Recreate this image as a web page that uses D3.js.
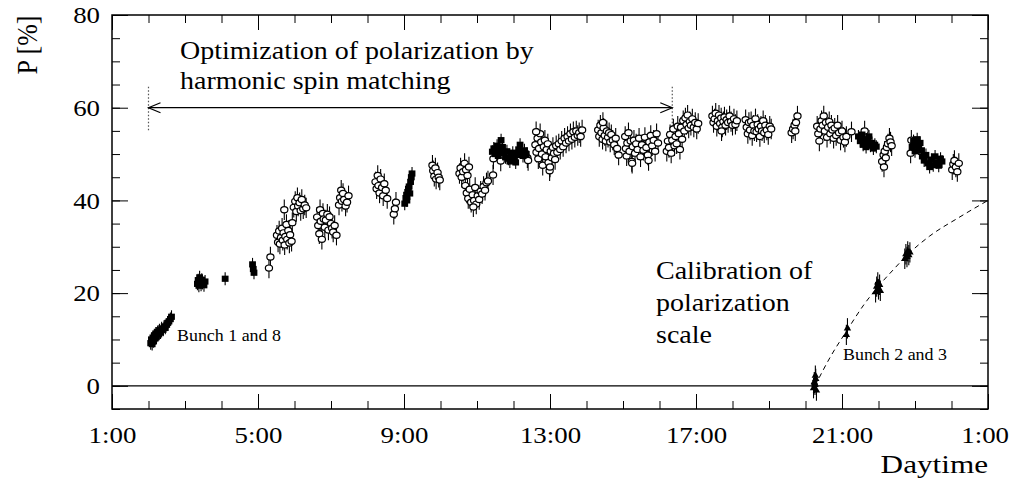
<!DOCTYPE html>
<html>
<head>
<meta charset="utf-8">
<script src="https://cdn.jsdelivr.net/npm/d3@7"></script>
<style>
  body { margin: 0; background: #fff; }
  svg { display: block; font-family: "Liberation Serif", "Times New Roman", serif; }
</style>
</head>
<body>
<svg id="chart" width="1013" height="479"></svg>
<script>
// hours counted from 1:00 of the first day (25 = 1:00 next day)
const majorHours = [1, 5, 9, 13, 17, 21, 25];
const hourLabels = ['1:00', '5:00', '9:00', '13:00', '17:00', '21:00', '1:00'];
const majorP = [0, 20, 40, 60, 80];

// filled squares: [hour, P]
const filledPoints = [
  [2.06, 9.2], [2.08, 10.0], [2.10, 9.0], [2.12, 10.4], [2.14, 9.6], [2.16, 10.9], [2.18, 10.2],
  [2.20, 11.3], [2.22, 10.6], [2.25, 11.6], [2.28, 11.1], [2.30, 12.0], [2.33, 11.5], [2.36, 12.4],
  [2.40, 12.1], [2.43, 12.8], [2.46, 12.5], [2.50, 13.2], [2.53, 13.6], [2.56, 13.9], [2.60, 14.4], [2.63, 14.9],
  [3.34, 22.0], [3.36, 22.8], [3.38, 21.6], [3.40, 23.4], [3.42, 22.4], [3.44, 21.8], [3.46, 22.9],
  [3.48, 22.2], [3.52, 21.7], [3.55, 22.5],
  [4.10, 23.1],
  [4.85, 26.2], [4.87, 25.2], [4.89, 24.4],
  [9.02, 39.3], [9.05, 40.5], [9.07, 41.2], [9.08, 40.0], [9.10, 41.8], [9.12, 42.5], [9.14, 43.0],
  [9.16, 41.5], [9.18, 44.0], [9.20, 45.0], [9.22, 45.8],
  [11.42, 50.5], [11.46, 51.2], [11.50, 50.0], [11.55, 51.8], [11.58, 49.6], [11.62, 50.8], [11.66, 53.0],
  [11.70, 51.5], [11.74, 50.2], [11.78, 49.3], [11.82, 50.6], [11.86, 49.0], [11.90, 48.4], [11.94, 49.5],
  [11.98, 50.3], [12.02, 49.0], [12.06, 48.2], [12.10, 49.8], [12.14, 51.0], [12.18, 52.0], [12.22, 50.5],
  [12.26, 49.6], [12.30, 50.8], [12.35, 50.0],
  [21.45, 53.8], [21.50, 52.8], [21.55, 54.2], [21.58, 52.0], [21.62, 53.2], [21.66, 51.5], [21.70, 52.6],
  [21.74, 53.8], [21.78, 51.8], [21.82, 52.4], [21.86, 51.2], [21.90, 52.0], [21.94, 51.6],
  [22.92, 51.5], [22.96, 52.8], [23.00, 50.6], [23.03, 52.0], [23.06, 53.2], [23.10, 51.2], [23.14, 52.4],
  [23.18, 50.8], [23.20, 49.5], [23.25, 48.6], [23.30, 49.8], [23.35, 48.0], [23.40, 47.2], [23.45, 48.8],
  [23.50, 47.6], [23.55, 49.5], [23.60, 48.2], [23.65, 47.5], [23.70, 49.0], [23.74, 48.4]
];

// open circles: [hour, P]
const openPoints = [
  [5.30, 25.4], [5.34, 27.8],
  [5.52, 32.5], [5.55, 31.0], [5.58, 33.4], [5.60, 30.6], [5.63, 32.0], [5.66, 34.0], [5.68, 31.4],
  [5.70, 33.0], [5.73, 30.4], [5.75, 32.2], [5.78, 34.8], [5.80, 31.6], [5.83, 33.5], [5.86, 30.8],
  [5.88, 32.6], [5.92, 31.2], [5.94, 35.2], [5.72, 38.0],
  [5.98, 38.5], [6.02, 39.8], [6.05, 37.6], [6.08, 40.6], [6.10, 38.8], [6.14, 39.5], [6.17, 37.8],
  [6.20, 40.2], [6.24, 38.2], [6.28, 39.0], [6.32, 38.4],
  [6.62, 36.4], [6.65, 34.6], [6.68, 32.8], [6.70, 38.0], [6.72, 35.5], [6.75, 31.6], [6.78, 37.2],
  [6.80, 36.0], [6.83, 34.2], [6.86, 35.8], [6.90, 37.0], [6.93, 33.6], [6.96, 36.5], [7.00, 35.0],
  [7.03, 34.0], [7.06, 33.2], [7.10, 34.6], [7.15, 32.5],
  [7.22, 39.0], [7.25, 40.6], [7.28, 42.2], [7.30, 39.8], [7.33, 41.5], [7.36, 40.2], [7.40, 38.8],
  [7.44, 39.6], [7.48, 41.0],
  [8.22, 44.0], [8.25, 42.5], [8.28, 45.4], [8.30, 43.2], [8.33, 41.6], [8.36, 44.6], [8.40, 42.8],
  [8.43, 41.0], [8.46, 43.6], [8.50, 42.2], [8.54, 40.4],
  [8.72, 37.0], [8.75, 38.2], [8.78, 39.6],
  [9.78, 47.6], [9.80, 46.4], [9.83, 45.2], [9.86, 47.0], [9.88, 44.6], [9.92, 46.0], [9.95, 45.0], [9.98, 44.4],
  [10.52, 45.8], [10.55, 47.0], [10.58, 45.0], [10.62, 46.2], [10.66, 48.0], [10.70, 46.6], [10.74, 45.4], [10.78, 47.2],
  [10.68, 43.2], [10.72, 41.6], [10.76, 40.4], [10.80, 42.4], [10.84, 39.6], [10.88, 41.2], [10.92, 40.0],
  [10.95, 42.8], [10.98, 39.2], [11.02, 41.0], [11.06, 40.2], [11.10, 42.0], [11.14, 41.4], [11.18, 43.0],
  [11.22, 42.2], [11.26, 43.8], [11.30, 44.2], [10.90, 38.6],
  [11.44, 45.5], [11.45, 49.0], [11.65, 48.5], [12.38, 49.2], [12.40, 48.6],
  [12.60, 52.0], [12.63, 50.4], [12.66, 53.4], [12.68, 49.0], [12.70, 51.2], [12.73, 54.4], [12.76, 52.6],
  [12.78, 50.0], [12.80, 47.6], [12.83, 51.6], [12.86, 53.0], [12.88, 49.4], [12.91, 51.0], [12.94, 52.2],
  [12.96, 48.2], [12.99, 46.4], [13.02, 50.6], [13.05, 49.2], [13.08, 51.4], [13.11, 50.2], [13.14, 48.8],
  [13.17, 51.8], [13.20, 50.4], [13.24, 52.2], [13.28, 51.0], [13.32, 52.8], [13.36, 51.6], [13.40, 53.4],
  [13.44, 52.4], [13.48, 53.8], [13.52, 52.8], [13.56, 54.4], [13.60, 53.2], [13.64, 54.8], [13.68, 53.6],
  [13.72, 55.0], [13.76, 54.0], [13.80, 54.6], [13.84, 53.8], [13.88, 55.2], [13.00, 47.2], [12.62, 54.8],
  [14.32, 55.2], [14.35, 53.8], [14.38, 56.2], [14.41, 54.6], [14.44, 53.2], [14.47, 55.6], [14.50, 54.0],
  [14.53, 52.8], [14.56, 55.0], [14.59, 53.6], [14.62, 54.6], [14.65, 52.6], [14.68, 54.2], [14.72, 53.0],
  [14.76, 52.0], [14.80, 53.4], [14.84, 51.2], [14.88, 49.8], [14.45, 56.8],
  [15.06, 53.8], [15.08, 51.2], [15.10, 49.6], [15.12, 52.4], [15.15, 54.6], [15.18, 50.6], [15.21, 52.8],
  [15.24, 48.4], [15.27, 51.6], [15.30, 53.0], [15.33, 50.2], [15.36, 52.2], [15.40, 51.0], [15.44, 53.4],
  [15.48, 49.4], [15.52, 52.0], [15.56, 50.8], [15.60, 53.6], [15.64, 51.4], [15.68, 49.8], [15.72, 52.6],
  [15.76, 54.0], [15.80, 51.8], [15.84, 53.0], [15.88, 50.6], [15.92, 54.4], [15.96, 52.4], [15.70, 48.6], [15.25, 48.0],
  [16.20, 50.6], [16.23, 52.8], [16.26, 51.4], [16.29, 54.2], [16.32, 50.2], [16.35, 53.0], [16.38, 55.4],
  [16.41, 51.8], [16.44, 53.8], [16.47, 52.2], [16.50, 56.0], [16.53, 54.4], [16.56, 51.0], [16.59, 55.8],
  [16.62, 53.2], [16.65, 57.2], [16.68, 55.0], [16.71, 57.8], [16.74, 56.4], [16.77, 58.4], [16.80, 55.6],
  [16.83, 57.0], [16.86, 56.2], [16.90, 57.6], [16.94, 55.8], [16.98, 56.8], [17.02, 55.4], [17.06, 56.6],
  [17.45, 58.2], [17.48, 56.8], [17.51, 57.6], [17.54, 58.8], [17.57, 56.0], [17.60, 57.2], [17.63, 58.4],
  [17.66, 56.6], [17.69, 57.8], [17.72, 55.8], [17.75, 57.0], [17.78, 58.0], [17.81, 56.2], [17.84, 57.4],
  [17.88, 56.8], [17.92, 58.2], [17.96, 57.0], [18.00, 56.2], [18.04, 57.6], [18.08, 56.4], [18.12, 57.2], [17.70, 55.0],
  [18.36, 57.4], [18.39, 55.8], [18.42, 54.4], [18.45, 56.8], [18.48, 55.2], [18.51, 57.0], [18.54, 54.0],
  [18.57, 56.2], [18.60, 55.0], [18.63, 57.6], [18.66, 54.8], [18.69, 56.4], [18.72, 55.4], [18.75, 53.8],
  [18.78, 56.0], [18.81, 55.0], [18.84, 57.2], [18.87, 54.6], [18.90, 56.2], [18.94, 55.2], [18.98, 54.2],
  [19.02, 56.0], [19.06, 55.4],
  [19.62, 54.6], [19.66, 55.4], [19.70, 56.2], [19.74, 56.8], [19.78, 58.2], [19.72, 55.0],
  [20.32, 56.0], [20.35, 54.4], [20.38, 52.8], [20.41, 55.4], [20.44, 57.2], [20.47, 56.2], [20.50, 58.2],
  [20.53, 55.0], [20.56, 56.8], [20.59, 53.6], [20.62, 55.8], [20.65, 57.0], [20.68, 54.4], [20.71, 56.2],
  [20.74, 55.2], [20.77, 53.4], [20.80, 55.6], [20.84, 54.0], [20.88, 56.2], [20.92, 54.6], [20.96, 53.0],
  [21.00, 55.0], [21.04, 53.6], [21.08, 52.6], [21.12, 53.8],
  [21.26, 54.8], [21.62, 55.0],
  [22.10, 48.4], [22.14, 49.8], [22.17, 50.6], [22.20, 49.2], [22.23, 51.4], [22.26, 52.2], [22.30, 53.4],
  [22.33, 52.6], [22.36, 51.8], [22.15, 47.2],
  [22.88, 50.2], [22.90, 53.0],
  [24.02, 46.6], [24.05, 47.8], [24.08, 48.6], [24.12, 47.2], [24.16, 46.2], [24.20, 48.0]
];

// calibration run, bunch 2 and 3: [hour, P]
const calPoints = [
  [20.22, -0.5], [20.24, 0.8], [20.26, 0.2], [20.28, 1.5], [20.30, -1.0], [20.27, 2.2], [20.25, 0.6],
  [21.12, 11.0], [21.15, 12.4],
  [21.92, 20.2], [21.95, 21.4], [21.98, 22.3], [22.00, 20.8], [22.03, 21.8], [22.05, 20.5],
  [22.72, 27.4], [22.75, 28.4], [22.78, 27.8], [22.80, 29.0], [22.83, 28.2], [22.86, 28.8]
];

// dashed rise curve: [hour, P]
const calCurve = [
  [20.26, 0], [20.7, 6.5], [21.14, 12], [21.6, 17.5], [22.0, 21.5], [22.4, 25],
  [22.8, 28.3], [23.4, 32.3], [24.2, 36.3], [25, 40]
];

const openErr = 2.2;
const filledErr = 1.4;
const calErr = 2.2;

// harmonic spin matching period
const spinMatchStart = 2.0;
const spinMatchEnd = 16.35;
const spinMatchP = 60;

const svg = d3.select('#chart');
const plotLeft = 112, plotRight = 988, plotTop = 15, plotBottom = 409;

const x = d3.scaleLinear().domain([1, 25]).range([plotLeft, plotRight]);
const y = d3.scaleLinear().domain([-5, 80]).range([plotBottom, plotTop]);

function styleAxis(g) {
  g.select('.domain').remove();
  g.selectAll('.tick line').attr('stroke', '#000').attr('stroke-width', 1);
}

// minor ticks, all four sides
const minorHours = d3.range(1, 26);
const minorP = d3.range(-5, 81, 5);
svg.append('g').attr('transform', `translate(0,${plotBottom})`)
  .call(d3.axisBottom(x).tickValues(minorHours).tickSize(-8).tickFormat(''))
  .call(styleAxis);
svg.append('g').attr('transform', `translate(0,${plotTop})`)
  .call(d3.axisTop(x).tickValues(minorHours).tickSize(-8).tickFormat(''))
  .call(styleAxis);
svg.append('g').attr('transform', `translate(${plotLeft},0)`)
  .call(d3.axisLeft(y).tickValues(minorP).tickSize(-8).tickFormat(''))
  .call(styleAxis);
svg.append('g').attr('transform', `translate(${plotRight},0)`)
  .call(d3.axisRight(y).tickValues(minorP).tickSize(-8).tickFormat(''))
  .call(styleAxis);

// major ticks
const xAxis = svg.append('g').attr('transform', `translate(0,${plotBottom})`)
  .call(d3.axisBottom(x).tickValues(majorHours).tickSize(-15).tickPadding(17)
    .tickFormat((d, i) => hourLabels[i]))
  .call(styleAxis);
svg.append('g').attr('transform', `translate(0,${plotTop})`)
  .call(d3.axisTop(x).tickValues(majorHours).tickSize(-15).tickFormat(''))
  .call(styleAxis);
const yAxis = svg.append('g').attr('transform', `translate(${plotLeft},0)`)
  .call(d3.axisLeft(y).tickValues(majorP).tickSize(-16).tickPadding(12))
  .call(styleAxis);
svg.append('g').attr('transform', `translate(${plotRight},0)`)
  .call(d3.axisRight(y).tickValues(majorP).tickSize(-16).tickFormat(''))
  .call(styleAxis);

// the glyphs of the original are a little wide: stretch them horizontally
const tickStretch = 1.12;
[xAxis, yAxis].forEach(function (g) {
  g.selectAll('.tick text')
    .attr('fill', '#000')
    .attr('font-family', '"Liberation Serif", serif')
    .attr('font-size', 24)
    .attr('x', function () { return +d3.select(this).attr('x') / tickStretch; })
    .attr('transform', `scale(${tickStretch},1)`);
});
// keep the last "1:00" inside the page
xAxis.selectAll('.tick text').filter(d => d === 25).attr('dx', -3);

// frame
svg.append('rect')
  .attr('x', plotLeft).attr('y', plotTop)
  .attr('width', plotRight - plotLeft).attr('height', plotBottom - plotTop)
  .attr('fill', 'none').attr('stroke', '#000').attr('stroke-width', 1.5);

// zero line
svg.append('line')
  .attr('x1', plotLeft).attr('x2', plotRight)
  .attr('y1', y(0)).attr('y2', y(0))
  .attr('stroke', '#000').attr('stroke-width', 1.2);

// spin matching arrow
const arrowY = y(spinMatchP);
[spinMatchStart, spinMatchEnd].forEach(function (h) {
  svg.append('line')
    .attr('x1', x(h)).attr('x2', x(h))
    .attr('y1', y(64.5)).attr('y2', y(55))
    .attr('stroke', '#555').attr('stroke-width', 1.2)
    .attr('stroke-dasharray', '1.5,2');
});
svg.append('line')
  .attr('x1', x(spinMatchStart)).attr('x2', x(spinMatchEnd))
  .attr('y1', arrowY).attr('y2', arrowY)
  .attr('stroke', '#000').attr('stroke-width', 1.2);
svg.append('path')
  .attr('d', `M${x(spinMatchStart) + 12},${arrowY - 5}L${x(spinMatchStart)},${arrowY}L${x(spinMatchStart) + 12},${arrowY + 5}` +
    `M${x(spinMatchEnd) - 12},${arrowY - 5}L${x(spinMatchEnd)},${arrowY}L${x(spinMatchEnd) - 12},${arrowY + 5}`)
  .attr('fill', 'none').attr('stroke', '#000').attr('stroke-width', 1.2);

// dashed calibration curve
svg.append('path')
  .datum(calCurve)
  .attr('d', d3.line().x(d => x(d[0])).y(d => y(d[1])).curve(d3.curveMonotoneX))
  .attr('fill', 'none').attr('stroke', '#000').attr('stroke-width', 1)
  .attr('stroke-dasharray', '5,4');

// error bars
function errBars(data, err) {
  svg.append('g').selectAll('line')
    .data(data)
    .enter()
    .append('line')
    .attr('x1', d => x(d[0])).attr('x2', d => x(d[0]))
    .attr('y1', d => y(d[1] - err)).attr('y2', d => y(d[1] + err))
    .attr('stroke', '#000').attr('stroke-width', 1.1);
}
errBars(openPoints, openErr);
errBars(filledPoints, filledErr);
errBars(calPoints, calErr);

svg.append('g').selectAll('ellipse')
  .data(openPoints)
  .enter()
  .append('ellipse')
  .attr('cx', d => x(d[0])).attr('cy', d => y(d[1]))
  .attr('rx', 3.6).attr('ry', 3.1)
  .attr('fill', '#fff').attr('stroke', '#000').attr('stroke-width', 1.2);

svg.append('g').selectAll('rect')
  .data(filledPoints)
  .enter()
  .append('rect')
  .attr('x', d => x(d[0]) - 3.4).attr('y', d => y(d[1]) - 3.1)
  .attr('width', 6.8).attr('height', 6.2)
  .attr('fill', '#000');

svg.append('g').selectAll('path')
  .data(calPoints)
  .enter()
  .append('path')
  .attr('transform', d => `translate(${x(d[0])},${y(d[1])})`)
  .attr('d', d3.symbol(d3.symbolTriangle, 24))
  .attr('fill', '#000');

// texts
function label(px, py, str, size, stretch, anchor) {
  svg.append('text')
    .attr('transform', `translate(${px},${py}) scale(${stretch},1)`)
    .attr('font-size', size)
    .attr('text-anchor', anchor || 'start')
    .attr('fill', '#000')
    .text(str);
}

label(180, 59, 'Optimization of polarization by', 25, 1.12);
label(180, 89, 'harmonic spin matching', 25, 1.12);
label(656, 279, 'Calibration of', 25, 1.12);
label(656, 311, 'polarization', 25, 1.12);
label(656, 343, 'scale', 25, 1.12);
label(177, 341, 'Bunch 1 and 8', 16, 1.12);
label(843, 360, 'Bunch 2 and 3', 16, 1.12);
label(988, 473, 'Daytime', 26, 1.2, 'end');

svg.append('text')
  .attr('transform', 'translate(37,45) scale(1.15,1) rotate(-90)')
  .attr('font-size', 26)
  .attr('text-anchor', 'middle')
  .attr('fill', '#000')
  .text('P [%]');
</script>
</body>
</html>
